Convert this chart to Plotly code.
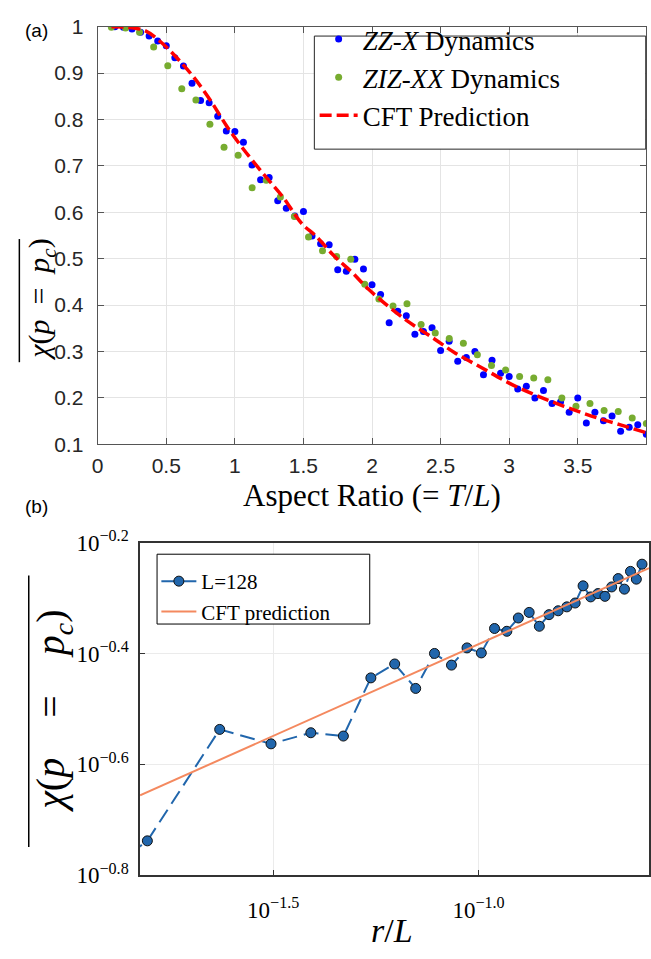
import plotly.graph_objects as go

W, H = 651, 959

# ---------------- data: panel (a) ----------------
zzx_x = [0.125, 0.1875, 0.25, 0.3125, 0.375, 0.4375, 0.5, 0.5625, 0.625, 0.6875, 0.75, 0.8125,
         0.875, 0.9375, 1.0, 1.0625, 1.125, 1.1875, 1.25, 1.3125, 1.375, 1.4375, 1.5, 1.5625,
         1.625, 1.6875, 1.75, 1.8125, 1.875, 1.9375, 2.0, 2.0625, 2.125, 2.1875, 2.25, 2.3125,
         2.375, 2.4375, 2.5, 2.5625, 2.625, 2.6875, 2.75, 2.8125, 2.875, 2.9375, 3.0, 3.0625,
         3.125, 3.1875, 3.25, 3.3125, 3.375, 3.4375, 3.5, 3.5625, 3.625, 3.6875, 3.75, 3.8125,
         3.875, 3.9375, 4.0]
zzx_y = [1.0, 0.999, 0.995, 0.988, 0.980, 0.969, 0.959, 0.933, 0.915, 0.878, 0.841, 0.836,
         0.807, 0.775, 0.774, 0.751, 0.702, 0.670, 0.675, 0.625, 0.609, 0.592, 0.602, 0.549,
         0.532, 0.530, 0.476, 0.473, 0.499, 0.478, 0.444, 0.423, 0.362, 0.387, 0.377, 0.337,
         0.343, 0.351, 0.302, 0.322, 0.279, 0.287, 0.300, 0.250, 0.281, 0.253, 0.246, 0.219,
         0.225, 0.200, 0.216, 0.188, 0.192, 0.169, 0.200, 0.146, 0.169, 0.151, 0.161, 0.128,
         0.137, 0.142, 0.122]

zizxx_x = [0.100, 0.203, 0.305, 0.408, 0.511, 0.613, 0.716, 0.818, 0.921, 1.024, 1.126, 1.229,
           1.332, 1.434, 1.537, 1.639, 1.742, 1.845, 1.947, 2.050, 2.153, 2.255, 2.358, 2.461,
           2.563, 2.666, 2.768, 2.871, 2.974, 3.076, 3.179, 3.282, 3.384, 3.487, 3.589, 3.692,
           3.795, 3.897, 4.000]
zizxx_y = [0.999, 0.997, 0.988, 0.956, 0.916, 0.866, 0.842, 0.790, 0.740, 0.723, 0.653, 0.669,
           0.633, 0.591, 0.547, 0.517, 0.505, 0.499, 0.445, 0.413, 0.398, 0.403, 0.358, 0.340,
           0.328, 0.318, 0.293, 0.270, 0.260, 0.246, 0.243, 0.239, 0.200, 0.182, 0.188, 0.173,
           0.171, 0.157, 0.145]

cft_a_x = [0.10, 0.20, 0.34, 0.46, 0.58, 0.70, 0.82, 0.94, 1.06, 1.23, 1.35, 1.49, 1.59, 1.73,
           1.85, 1.975, 2.215, 2.455, 2.60, 2.80, 3.00, 3.20, 3.40, 3.60, 3.80, 4.00]
cft_a_y = [1.000, 0.999, 0.992, 0.967, 0.932, 0.891, 0.842, 0.786, 0.737, 0.675, 0.633, 0.575,
           0.549, 0.504, 0.472, 0.434, 0.375, 0.327, 0.298, 0.265, 0.232, 0.205, 0.182, 0.161,
           0.143, 0.125]

xa_ticks = [0, 0.5, 1, 1.5, 2, 2.5, 3, 3.5, 4]
xa_labels = ["0", "0.5", "1", "1.5", "2", "2.5", "3", "3.5", "4"]
ya_ticks = [0.1, 0.2, 0.3, 0.4, 0.5, 0.6, 0.7, 0.8, 0.9, 1.0]
ya_labels = ["0.1", "0.2", "0.3", "0.4", "0.5", "0.6", "0.7", "0.8", "0.9", "1"]

# ---------------- data: panel (b) ----------------
L = 128
r_vals = [1, 2, 3, 4, 5, 6, 7, 8, 9, 10, 11, 12, 13, 14, 15, 16, 17, 18, 19, 20, 21, 22, 23,
          24, 25, 26, 27, 28, 29, 30, 31, 32]
chi_b = [0.125, 0.1828, 0.2904, 0.2735, 0.2864, 0.2825, 0.3597, 0.3811, 0.3443, 0.3981, 0.3793,
         0.4074, 0.3990, 0.4416, 0.4365, 0.4613, 0.4721, 0.4457, 0.4677, 0.4753, 0.4831,
         0.4909, 0.5272, 0.5035, 0.5105, 0.5047, 0.5248, 0.5433, 0.5200, 0.5598, 0.5420, 0.5768]
cft_b_x = [0.01500, 0.2600]
cft_b_y = [0.2208, 0.5675]

xb_ticks = [10 ** -1.5, 10 ** -1.0]
xb_labels = ["10<sup>\u22121.5</sup>", "10<sup>\u22121.0</sup>"]
yb_ticks = [10 ** -0.8, 10 ** -0.6, 10 ** -0.4, 10 ** -0.2]
yb_labels = ["10<sup>\u22120.8</sup>", "10<sup>\u22120.6</sup>", "10<sup>\u22120.4</sup>", "10<sup>\u22120.2</sup>"]


def px(x):
    return x / W


def py(y):
    return 1 - y / H


SANS = "Liberation Sans, Arial, sans-serif"
SERIF = "Liberation Serif, Times New Roman, serif"

fig = go.Figure()

fig.add_trace(go.Scatter(x=zzx_x, y=zzx_y, mode="markers", name="<i>ZZ</i>-<i>X</i> Dynamics",
                         marker=dict(color="#0000ff", size=7), xaxis="x", yaxis="y", legend="legend"))
fig.add_trace(go.Scatter(x=zizxx_x, y=zizxx_y, mode="markers", name="<i>ZIZ</i>-<i>XX</i> Dynamics",
                         marker=dict(color="#77ac30", size=7), xaxis="x", yaxis="y", legend="legend"))
fig.add_trace(go.Scatter(x=cft_a_x, y=cft_a_y, mode="lines", name="CFT Prediction",
                         line=dict(color="#ff0000", width=3.5, dash="12px,5px", shape="spline"),
                         xaxis="x", yaxis="y", legend="legend"))

r_over_L = [r / L for r in r_vals]
fig.add_trace(go.Scatter(x=r_over_L, y=chi_b, mode="lines+markers", name="L=128",
                         line=dict(color="#2166ac", width=2, dash="15px,7px"),
                         marker=dict(color="#2166ac", size=10, line=dict(color="#111111", width=1)),
                         xaxis="x2", yaxis="y2", legend="legend2"))
fig.add_trace(go.Scatter(x=cft_b_x, y=cft_b_y, mode="lines", name="CFT prediction",
                         line=dict(color="#f4895f", width=2),
                         xaxis="x2", yaxis="y2", legend="legend2"))

axa = dict(showgrid=True, gridcolor="#e4e4e4", gridwidth=1, zeroline=False,
           showline=True, linecolor="#555555", linewidth=1.3, mirror="ticks",
           ticks="inside", ticklen=6, tickcolor="#555555", tickwidth=1.3,
           tickfont=dict(family=SANS, size=21, color="#262626"))
axb = dict(showgrid=True, gridcolor="#ebebeb", gridwidth=1, zeroline=False,
           showline=True, linecolor="#333333", linewidth=1.5, mirror=True,
           ticks="inside", ticklen=5, tickcolor="#333333", tickwidth=1,
           tickfont=dict(family=SERIF, size=23, color="#000000"))

fig.update_layout(
    width=W, height=H, margin=dict(l=0, r=0, t=0, b=0),
    paper_bgcolor="white", plot_bgcolor="white",
    xaxis=dict(domain=[px(92.7), px(647.3)], range=[0, 4], tickvals=xa_ticks, ticktext=xa_labels,
               anchor="y", ticklabelstandoff=2, **axa),
    yaxis=dict(domain=[py(441.7), py(11)], range=[0.1, 1.0], tickvals=ya_ticks, ticktext=ya_labels,
               anchor="x", ticklabelstandoff=9, **axa),
    xaxis2=dict(domain=[px(135.5), px(650)], type="log", range=[-1.824, -0.585],
                tickvals=xb_ticks, ticktext=xb_labels, anchor="y2", ticklabelstandoff=13, **axb),
    yaxis2=dict(domain=[py(886), py(543)], type="log", range=[-0.8, -0.2],
                tickvals=yb_ticks, ticktext=yb_labels, anchor="x2", ticklabelstandoff=5, **axb),
    legend=dict(x=px(312), y=py(-1), xanchor="left", yanchor="top", bgcolor="rgba(0,0,0,0)",
                borderwidth=0, font=dict(family=SERIF, size=27, color="black"), itemwidth=38,
                tracegroupgap=0),
    legend2=dict(x=px(152), y=py(562), xanchor="left", yanchor="top", bgcolor="rgba(0,0,0,0)",
                 borderwidth=0, font=dict(family=SERIF, size=21, color="black"), itemwidth=35,
                 tracegroupgap=0),
    showlegend=True,
)

shapes = [
    # legend frames
    dict(type="rect", xref="paper", yref="paper", x0=px(311.7), x1=px(646.7), y0=py(137.3), y1=py(20.7),
         fillcolor="white", line=dict(color="#262626", width=1), layer="above"),
    dict(type="rect", xref="paper", yref="paper", x0=px(152.7), x1=px(367.7), y0=py(627), y1=py(555),
         fillcolor="white", line=dict(color="#000000", width=1), layer="above"),
    # overlines of the y-axis titles
    dict(type="line", xref="paper", yref="paper", x0=px(13.5), x1=px(13.5), y0=py(357), y1=py(230),
         line=dict(color="black", width=1.5)),
    dict(type="line", xref="paper", yref="paper", x0=px(23), x1=px(23), y0=py(857), y1=py(577),
         line=dict(color="black", width=1.5)),
]
fig.update_layout(shapes=shapes)

ann = [
    dict(text="(a)", x=px(31), y=py(15), font=dict(family=SANS, size=19, color="black")),
    dict(text="(b)", x=px(31), y=py(506), font=dict(family=SANS, size=19, color="black")),
    dict(text="Aspect Ratio (= <i>T</i>/<i>L</i>)", x=px(370), y=py(494),
         font=dict(family=SERIF, size=31, color="black")),
    dict(text="<i>\u03c7</i>(<i>p</i>\u2002=\u2002<i>p</i><sub><i>c</i></sub>)", x=px(36), y=py(293),
         textangle=-90, font=dict(family=SERIF, size=30, color="black")),
    dict(text="<i>r</i>/<i>L</i>", x=px(390), y=py(943), font=dict(family=SERIF, size=34, color="black")),
    dict(text="<i>\u03c7</i>(<i>p</i>\u2003=\u2003<i>p</i><sub><i>c</i></sub>)", x=px(48), y=py(717),
         textangle=-90, font=dict(family=SERIF, size=40, color="black")),
]
for a in ann:
    a.update(xref="paper", yref="paper", showarrow=False, xanchor="center", yanchor="middle")
fig.update_layout(annotations=ann)

fig.write_html("out.html")
